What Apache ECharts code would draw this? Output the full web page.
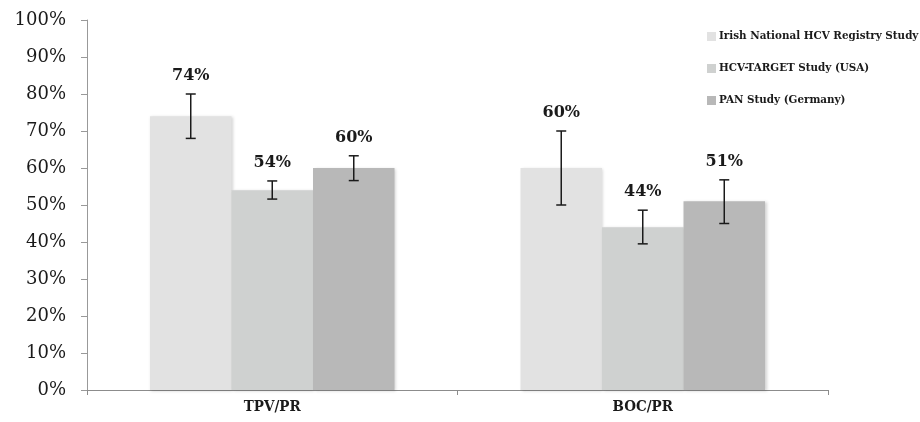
<!DOCTYPE html>
<html>
<head>
<meta charset="utf-8">
<script src="https://cdn.jsdelivr.net/npm/echarts@6/dist/echarts.min.js"></script>
<style>
  html, body { margin: 0; padding: 0; background: #fff; }
  #chart { width: 920px; height: 422px; }
</style>
</head>
<body>
<div id="chart"></div>
<script>
// categories and series
const categories = ['TPV/PR', 'BOC/PR'];
const seriesNames = ['Irish National HCV Registry Study', 'HCV-TARGET Study (USA)', 'PAN Study (Germany)'];
const irish = [74, 60];
const hcvTarget = [54, 44];
const pan = [60, 51];
// error bar ranges [low, high] per category
const irishErr = [[68, 80], [50, 70]];
const hcvTargetErr = [[51.6, 56.5], [39.5, 48.6]];
const panErr = [[56.6, 63.3], [45, 56.8]];
const yTicks = [0, 10, 20, 30, 40, 50, 60, 70, 80, 90, 100];

const colors = ['#e2e2e2', '#cfd1d0', '#b8b8b8'];
const values = [irish, hcvTarget, pan];
const errs = [irishErr, hcvTargetErr, panErr];
const serif = '"DejaVu Serif", "Liberation Serif", serif';
const serifCond = '"DejaVu Serif Condensed", "DejaVu Serif", serif';
const gapPct = 34;

const chart = echarts.init(document.getElementById('chart'));

// bars
const barSeries = seriesNames.map((name, i) => ({
  name: name,
  type: 'bar',
  data: values[i],
  barGap: '0%',
  barCategoryGap: gapPct + '%',
  itemStyle: {
    color: colors[i],
    shadowBlur: 3,
    shadowOffsetX: 1.5,
    shadowOffsetY: 1,
    shadowColor: 'rgba(0,0,0,0.18)'
  },
  z: 2
}));

// error bars + value labels drawn on top of each bar
const errSeries = seriesNames.map((name, i) => ({
  type: 'custom',
  name: name + ' err',
  data: values[i].map((v, c) => [c, errs[i][c][0], errs[i][c][1], v]),
  encode: { x: 0, y: [1, 2] },
  z: 5,
  silent: true,
  renderItem: function (params, api) {
    const c = api.value(0);
    const catW = api.size([1, 0])[0];
    const barW = catW * (1 - gapPct / 100) / 3;
    const lo = api.coord([c, api.value(1)]);
    const hi = api.coord([c, api.value(2)]);
    const x = lo[0] + (i - 1) * barW;
    const cap = 5;
    const st = { stroke: '#1a1a1a', lineWidth: 1.5 };
    return {
      type: 'group',
      children: [
        { type: 'line', shape: { x1: x, y1: lo[1], x2: x, y2: hi[1] }, style: st },
        { type: 'line', shape: { x1: x - cap, y1: lo[1], x2: x + cap, y2: lo[1] }, style: st },
        { type: 'line', shape: { x1: x - cap, y1: hi[1], x2: x + cap, y2: hi[1] }, style: st },
        {
          type: 'text',
          x: x,
          y: hi[1] - 10,
          style: {
            text: api.value(3) + '%',
            font: 'bold 16px ' + serif,
            fill: '#1a1a1a',
            align: 'center',
            verticalAlign: 'bottom'
          }
        }
      ]
    };
  }
}));

chart.setOption({
  animation: false,
  grid: { left: 87, right: 92, top: 20, bottom: 32 },
  legend: {
    data: seriesNames,
    orient: 'vertical',
    left: 702,
    top: 25,
    itemGap: 19,
    itemWidth: 9,
    itemHeight: 9,
    icon: 'rect',
    textStyle: { fontFamily: serifCond, fontWeight: 'bold', fontSize: 11.5, lineHeight: 13, color: '#1a1a1a', padding: [0, 0, 0, -2] }
  },
  xAxis: {
    type: 'category',
    data: categories,
    axisLine: { lineStyle: { color: '#8c8c8c', width: 1 } },
    axisTick: { show: true, length: 5, lineStyle: { color: '#8c8c8c' } },
    axisLabel: { fontFamily: serifCond, fontWeight: 'bold', fontSize: 15, color: '#1a1a1a', margin: 10 }
  },
  yAxis: {
    type: 'value',
    min: yTicks[0],
    max: yTicks[yTicks.length - 1],
    interval: 10,
    splitLine: { show: false },
    axisLine: { show: true, lineStyle: { color: '#999', width: 1 } },
    axisTick: { show: true, length: 6, lineStyle: { color: '#999' } },
    axisLabel: { formatter: '{value}%', fontFamily: serif, fontSize: 18, color: '#1a1a1a', margin: 21 }
  },
  series: barSeries.concat(errSeries)
});
</script>
</body>
</html>
